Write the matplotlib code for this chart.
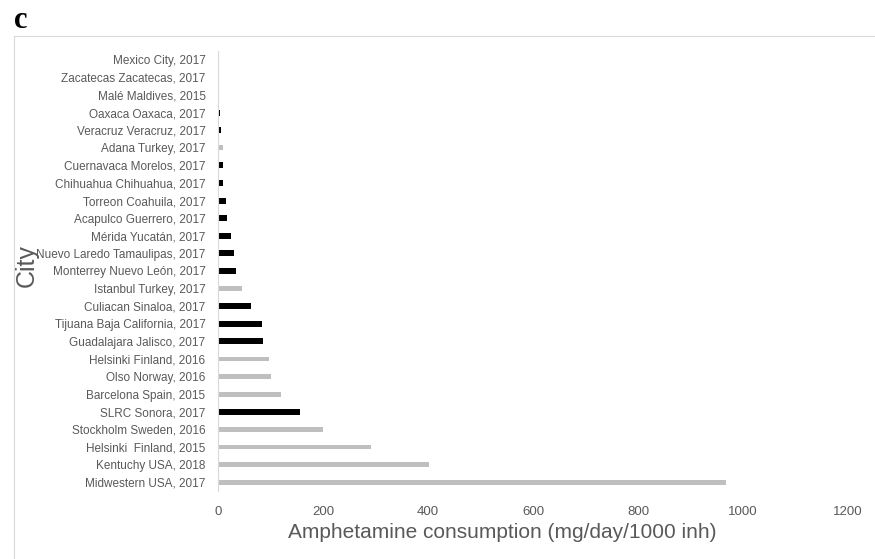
import matplotlib.pyplot as plt
from matplotlib.lines import Line2D

# cities listed top to bottom as in the chart
cities = [
    "Mexico City, 2017",
    "Zacatecas Zacatecas, 2017",
    "Malé Maldives, 2015",
    "Oaxaca Oaxaca, 2017",
    "Veracruz Veracruz, 2017",
    "Adana Turkey, 2017",
    "Cuernavaca Morelos, 2017",
    "Chihuahua Chihuahua, 2017",
    "Torreon Coahuila, 2017",
    "Acapulco Guerrero, 2017",
    "Mérida Yucatán, 2017",
    "Nuevo Laredo Tamaulipas, 2017",
    "Monterrey Nuevo León, 2017",
    "Istanbul Turkey, 2017",
    "Culiacan Sinaloa, 2017",
    "Tijuana Baja California, 2017",
    "Guadalajara Jalisco, 2017",
    "Helsinki Finland, 2016",
    "Olso Norway, 2016",
    "Barcelona Spain, 2015",
    "SLRC Sonora, 2017",
    "Stockholm Sweden, 2016",
    "Helsinki  Finland, 2015",
    "Kentuchy USA, 2018",
    "Midwestern USA, 2017",
]
consumption = [0, 0, 2, 4, 6, 9, 9, 9, 14.5, 16.5, 25, 30.5, 35, 46.5, 63,
               83, 85, 98, 100, 120, 156, 200, 291, 401, 968]
mexico = [True, True, False, True, True, False, True, True, True, True,
          True, True, True, False, True, True, True, False, False, False,
          True, False, False, False, False]
xticks = [0, 200, 400, 600, 800, 1000, 1200]

plt.rcParams['font.family'] = ['Liberation Sans', 'DejaVu Sans']

W, H = 875, 559
fig = plt.figure(figsize=(W / 100, H / 100), dpi=100)
ax = fig.add_axes([218 / W, 1 - 491 / H, 630 / W, 440 / H])

colors = ["black" if m else "#bfbfbf" for m in mexico]
ypos = list(range(len(cities)))
heights = [0.34 if m else 0.28 for m in mexico]
ax.barh(ypos, consumption, height=heights, color=colors)

ax.set_ylim(len(cities) - 0.5, -0.5)
ax.set_yticks(ypos)
ax.set_yticklabels(cities, fontsize=8.5, color="#595959")
ax.set_xlim(0, 1200)
ax.set_xticks(xticks)
ax.set_xticklabels([str(t) for t in xticks], fontsize=9.5, color="#595959")
ax.tick_params(axis="both", length=0)
ax.tick_params(axis="y", pad=9)
ax.tick_params(axis="x", pad=11)

for side in ["top", "right", "bottom"]:
    ax.spines[side].set_visible(False)
ax.spines["left"].set_color("#d9d9d9")
ax.spines["left"].set_linewidth(0.8)

fig.text(502 / W, 1 - 532 / H, "Amphetamine consumption (mg/day/1000 inh)",
         ha="center", va="center", fontsize=15, color="#595959")
fig.text(27 / W, 1 - 266 / H, "City", rotation=90,
         ha="center", va="center", fontsize=18, color="#595959")

fig.text(14 / W, 1 - 21 / H, "c", family="Liberation Serif",
         fontweight="bold", fontsize=22, ha="left", va="center")

# chart area frame (top and left edges)
fig.add_artist(Line2D([14 / W, 1], [1 - 36 / H, 1 - 36 / H],
                      transform=fig.transFigure, color="#d9d9d9", lw=0.8))
fig.add_artist(Line2D([14 / W, 14 / W], [0, 1 - 36 / H],
                      transform=fig.transFigure, color="#d9d9d9", lw=0.8))

fig.savefig("out.png", dpi=100)
